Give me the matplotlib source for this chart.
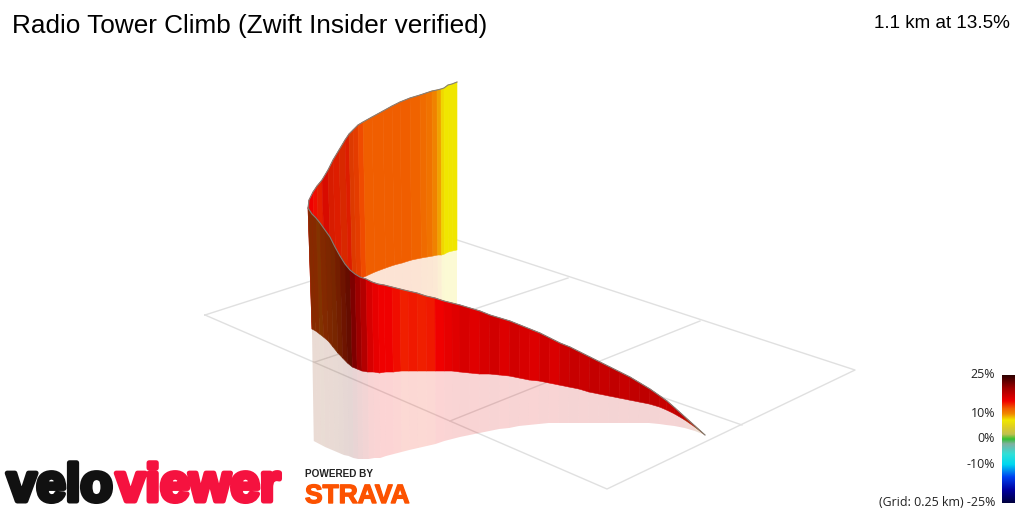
import numpy as np
import matplotlib
matplotlib.use('Agg')
import matplotlib.pyplot as plt
import matplotlib.patheffects as pe
from matplotlib.collections import PolyCollection
from matplotlib.colors import LinearSegmentedColormap, Normalize

title = "Radio Tower Climb (Zwift Insider verified)"
summary = "1.1 km at 13.5%"
bar_ticks = [25, 10, 0, -10, -25]

# gradient scale of the legend bar
scale_grades = [-25, -20, -15, -10, -6, -2, 0, 2, 5, 7.5, 10, 12, 15, 20, 25]
scale_colors = ['#000040', '#0000a0', '#0040f0', '#00d8f0', '#30e0d8', '#80b0a0', '#30c030', '#c0c050',
                '#e0d020', '#f0e800', '#f08800', '#f06000', '#f00000', '#a00000', '#300000']

# grid corners, read in picture pixels
grid_left = (205, 315)
grid_top = (448, 237)
grid_right = (855, 370)
grid_bottom = (607, 489)
grid_a_start = [(568, 278), (700, 321)]
grid_a_end = [(315, 362), (450, 421)]
grid_b_start = [(320, 278)]
grid_b_end = [(742, 425)]

# the near stretch of the climb, from the corner down to the start
near_x = [308, 312, 316, 320, 325, 330, 335, 340, 345, 350, 355, 360, 366, 372, 378, 384, 392, 400, 408, 417,
          426, 435, 444, 452, 460, 470, 480, 490, 500, 510, 520, 530, 540, 550, 560, 570, 580, 590, 600, 610,
          620, 630, 640, 650, 660, 667, 675, 685, 695, 705]
near_top = [208, 214, 218, 223, 230, 237, 247, 256, 264, 270, 274, 277, 279, 282, 284, 285, 287, 289, 291, 293,
            296, 298, 301, 303, 305, 308, 311, 315, 318, 321, 325, 329, 333, 338, 343, 347, 352, 357, 362, 367,
            372, 377, 383, 389, 396, 401, 408, 417, 426, 435]
near_base = [329, 331, 334, 337, 341, 347, 353, 358, 363, 367, 369, 371, 372, 372, 373, 372, 372, 371, 371, 371,
             371, 371, 371, 371, 372, 373, 374, 374, 375, 376, 378, 380, 381, 383, 385, 387, 389, 392, 394, 396,
             398, 400, 402, 404, 407, 410, 414, 420, 427, 435]
near_shadow = [441, 443, 445, 447, 449, 451, 453, 455, 456, 458, 459, 459, 459, 458, 458, 456, 454, 452, 450, 448,
               446, 444, 441, 439, 437, 435, 433, 431, 429, 428, 426, 425, 424, 423, 423, 423, 423, 423, 423, 423,
               423, 423, 423, 423, 424, 425, 426, 428, 431, 435]
near_grade = [12.5, 12.5, 12, 12.5, 12.5, 12.5, 13, 13.5, 14, 20, 18.5, 17.5, 16.5, 15.5, 15, 15, 14.5, 14, 14.2, 14, 14.2,
              15, 15.5, 16, 16.5, 16, 16.5, 16.8, 16.2, 16.8, 16.5, 16.2, 16.8, 16.4, 17, 17.5, 17.2, 17.6, 17.4, 17.8,
              17.5, 17.8, 18, 17.8, 17.5, 17.5, 16.5, 14, 12, 11]
near_light = [.56, .56, .54, .54, .52, .5, .48, .46, .42, .8, .85, .9, 1, 1, 1, 1, 1, 1, 1, 1, 1, 1, 1, 1, 1, 1, 1, 1,
              1, 1, 1, 1, 1, 1, 1, 1, 1, 1, 1, 1, 1, 1, 1, 1, 1, 1, .9, .75, .62, .5]

# the far stretch, from the corner up to the finish
far_x = [308, 309, 313, 317, 322, 328, 333, 339, 345, 349, 353, 358, 363, 372, 383, 392, 400, 410, 420, 426, 432,
         437, 441, 444, 448, 452, 457]
far_top = [208, 200, 192, 186, 180, 170, 160, 150, 140, 134, 130, 125, 122, 117, 111, 106, 102, 98, 95, 93, 91,
           90, 89, 88, 85, 84, 82]
far_base = [329, 325, 320, 316, 312, 306, 300, 295, 290, 286, 282, 278, 276, 272, 268, 265, 263, 260, 258, 257,
            256, 255, 255, 254, 252, 251, 250]
far_shadow = [329, 325, 320, 316, 312, 306, 300, 295, 290, 286, 300, 340, 340, 340, 340, 340, 340, 340, 340, 340,
              340, 340, 340, 340, 340, 340, 340]
far_grade = [15, 15, 14.5, 14, 14.5, 14, 14, 13.5, 14, 13, 13, 12.5, 12, 12, 12, 12, 12, 11.8, 11.5, 11, 10.2,
             9.2, 8, 7.5, 7.5, 7.5, 7.5]
far_light = [1, 1, 1, .95, .9, .9, .92, .9, .92, .92, .95, 1, 1, 1, 1, 1, 1, 1, 1, 1, 1, 1, 1, 1, 1, 1, 1]

cmap = LinearSegmentedColormap.from_list('grade', [((g + 25) / 50, c) for g, c in zip(scale_grades, scale_colors)])
norm = Normalize(-25, 25)


def draw_ribbon(ax, x, top, base, shadow, grade, light, order):
    x = np.array(x, dtype=float)
    top = np.array(top, dtype=float)
    base = np.array(base, dtype=float)
    shadow = np.array(shadow, dtype=float)
    # uprights close in a little towards the bottom
    lean = (457 - x) * 0.00022
    base_x = x + lean * (base - top)
    shadow_x = base_x + lean * np.clip(shadow - base, 0, 110) * 0.5
    colors = cmap(norm(np.array(grade[:-1]))) * np.array([[l, l, l, 1] for l in light[:-1]])
    walls = []
    pale = []
    for i in range(len(x) - 1):
        walls.append([(x[i], top[i]), (x[i + 1], top[i + 1]), (base_x[i + 1], base[i + 1]), (base_x[i], base[i])])
        pale.append([(base_x[i], base[i]), (base_x[i + 1], base[i + 1]), (shadow_x[i + 1], shadow[i + 1]),
                     (shadow_x[i], shadow[i])])
    pale_colors = colors.copy()
    pale_colors[:, 3] = 0.17
    ax.add_collection(PolyCollection(pale, facecolors=pale_colors, edgecolors='none', zorder=order))
    ax.add_collection(PolyCollection(walls, facecolors=colors, edgecolors=colors, linewidths=0.4, zorder=order + 1))
    ax.plot(x, top, color='#857f78', lw=0.8, zorder=order + 2)


fig = plt.figure(figsize=(10.24, 5.12), dpi=100)
ax = fig.add_axes([0, 0, 1, 1])
ax.set_xlim(0, 1024)
ax.set_ylim(512, 0)
ax.axis('off')

outline = [grid_left, grid_top, grid_right, grid_bottom, grid_left]
ax.plot([p[0] for p in outline], [p[1] for p in outline], color='#e0e0e0', lw=1.0, zorder=1)
for a, b in zip(grid_a_start + grid_b_start, grid_a_end + grid_b_end):
    ax.plot([a[0], b[0]], [a[1], b[1]], color='#e0e0e0', lw=1.0, zorder=1)

draw_ribbon(ax, far_x, far_top, far_base, far_shadow, far_grade, far_light, 2)
draw_ribbon(ax, near_x, near_top, near_base, near_shadow, near_grade, near_light, 5)

ax.text(12, 33, title, fontsize=18.8, family='Liberation Sans', color='black')
ax.text(1010, 28, summary, fontsize=13.6, family='Liberation Sans', color='black', ha='right')

# legend bar
bar = np.linspace(25, -25, 128).reshape(-1, 1)
ax.imshow(bar, cmap=cmap, norm=norm, extent=[1002, 1015, 503, 375], aspect='auto', zorder=3)
ax.set_xlim(0, 1024)
ax.set_ylim(512, 0)
for t in bar_ticks:
    label = "%d%%" % t
    if t == -25:
        label = "(Grid: 0.25 km) " + label
    ax.text(995, 375 + (25 - t) * 2.56, label, fontsize=8.9, family='Open Sans', ha='right', va='center', color='#222222')

# logos
heavy = [pe.withStroke(linewidth=3.6, foreground='#111111')]
ax.text(7, 501, "velo", fontsize=38, family='Liberation Sans', weight='bold', color='#111111', path_effects=heavy)
heavy = [pe.withStroke(linewidth=3.6, foreground='#f5123f')]
ax.text(116, 501, "viewer", fontsize=38, family='Liberation Sans', weight='bold', color='#f5123f', path_effects=heavy)
ax.text(305, 477, "POWERED BY", fontsize=7.2, family='Liberation Sans', weight='bold', color='#222222')
heavy = [pe.withStroke(linewidth=1, foreground='#fc5200')]
ax.text(305, 503, "STRAVA", fontsize=19, family='Liberation Sans', weight='bold', color='#fc5200', path_effects=heavy)

fig.savefig('out.png', dpi=100)
